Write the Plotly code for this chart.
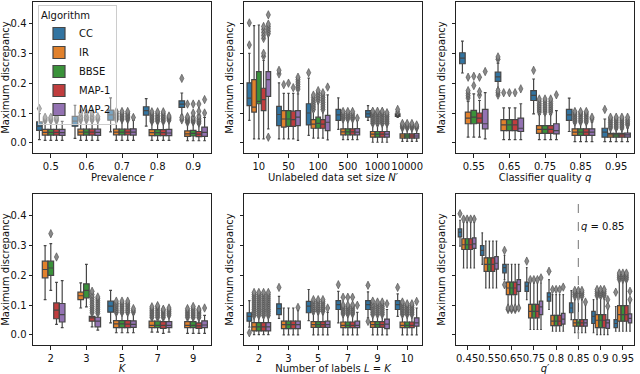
import plotly.graph_objects as go

ALGOS = ["CC", "IR", "BBSE", "MAP-1", "MAP-2"]
COLORS = ["#3274a1", "#e1812c", "#3a923a", "#c03d3e", "#9372b2"]

# ---------- Panel 1: prevalence r ----------
PREV_CATS = ["0.5", "0.6", "0.7", "0.8", "0.9"]
PREV_STATS = {  # [lower whisker, q1, median, q3, upper whisker]
    "CC":    [[0.011, 0.042, 0.056, 0.070, 0.098], [0.015, 0.056, 0.073, 0.089, 0.126], [0.037, 0.076, 0.094, 0.110, 0.151], [0.056, 0.093, 0.108, 0.121, 0.148], [0.093, 0.119, 0.130, 0.141, 0.167]],
    "IR":    [[0.008, 0.026, 0.035, 0.045, 0.070], [0.008, 0.026, 0.036, 0.046, 0.072], [0.008, 0.027, 0.036, 0.046, 0.074], [0.008, 0.024, 0.034, 0.044, 0.068], [0.007, 0.022, 0.030, 0.040, 0.065]],
    "BBSE":  [[0.008, 0.026, 0.035, 0.045, 0.070], [0.008, 0.026, 0.036, 0.046, 0.072], [0.008, 0.027, 0.036, 0.046, 0.074], [0.008, 0.024, 0.034, 0.044, 0.068], [0.007, 0.023, 0.032, 0.042, 0.066]],
    "MAP-1": [[0.008, 0.026, 0.035, 0.045, 0.070], [0.008, 0.026, 0.036, 0.046, 0.072], [0.008, 0.027, 0.036, 0.046, 0.074], [0.008, 0.024, 0.034, 0.044, 0.068], [0.007, 0.021, 0.029, 0.038, 0.062]],
    "MAP-2": [[0.008, 0.025, 0.034, 0.045, 0.072], [0.008, 0.025, 0.035, 0.046, 0.074], [0.008, 0.026, 0.036, 0.047, 0.076], [0.008, 0.024, 0.033, 0.045, 0.072], [0.007, 0.022, 0.035, 0.053, 0.085]],
}
PREV_OUT = {
    "CC":    [[0.115], [], [], [], [0.077, 0.085, 0.216]],
    "IR":    [[0.074, 0.078, 0.082, 0.086], [0.076, 0.080, 0.085, 0.090, 0.100], [0.078, 0.083, 0.088, 0.093, 0.099, 0.105], [0.072, 0.077, 0.082, 0.087, 0.092, 0.098, 0.104], [0.068, 0.073, 0.078, 0.083, 0.088, 0.130]],
    "BBSE":  [[0.074, 0.078, 0.082, 0.086], [0.076, 0.080, 0.085, 0.090, 0.100], [0.078, 0.083, 0.088, 0.093, 0.099, 0.105], [0.072, 0.077, 0.082, 0.087, 0.092, 0.098, 0.104], [0.070, 0.075, 0.080, 0.086, 0.100, 0.130]],
    "MAP-1": [[0.074, 0.078, 0.082, 0.086], [0.076, 0.080, 0.085, 0.090, 0.100], [0.078, 0.083, 0.088, 0.093, 0.099, 0.105], [0.072, 0.077, 0.082, 0.087, 0.092, 0.098, 0.104], [0.066, 0.071, 0.076, 0.082, 0.090, 0.106, 0.130]],
    "MAP-2": [[], [0.078, 0.083, 0.088], [0.085], [0.076, 0.081, 0.086, 0.090], [0.100, 0.145]],
}

# ---------- Panel 2: unlabeled data set size N' ----------
SIZE_CATS = ["10", "50", "100", "500", "1000", "10000"]
SIZE_STATS = {
    "CC":    [[0.075, 0.125, 0.150, 0.201, 0.300], [0.013, 0.058, 0.095, 0.122, 0.201], [0.025, 0.060, 0.100, 0.131, 0.217], [0.045, 0.075, 0.094, 0.112, 0.151], [0.075, 0.086, 0.097, 0.108, 0.125], [0.085, 0.089, 0.093, 0.097, 0.100]],
    "IR":    [[0.013, 0.103, 0.120, 0.212, 0.393], [0.013, 0.053, 0.080, 0.108, 0.166], [0.016, 0.049, 0.063, 0.078, 0.105], [0.011, 0.027, 0.037, 0.047, 0.075], [0.002, 0.019, 0.029, 0.038, 0.060], [0.005, 0.016, 0.023, 0.030, 0.045]],
    "BBSE":  [[0.013, 0.131, 0.139, 0.239, 0.395], [0.013, 0.055, 0.080, 0.108, 0.166], [0.016, 0.049, 0.065, 0.086, 0.135], [0.011, 0.027, 0.037, 0.047, 0.075], [0.002, 0.019, 0.029, 0.038, 0.060], [0.005, 0.016, 0.023, 0.030, 0.045]],
    "MAP-1": [[0.013, 0.108, 0.145, 0.183, 0.276], [0.013, 0.055, 0.078, 0.106, 0.166], [0.016, 0.049, 0.063, 0.078, 0.105], [0.011, 0.027, 0.037, 0.047, 0.075], [0.002, 0.019, 0.029, 0.038, 0.060], [0.005, 0.016, 0.023, 0.030, 0.045]],
    "MAP-2": [[0.047, 0.156, 0.212, 0.239, 0.360], [0.008, 0.058, 0.086, 0.108, 0.164], [0.010, 0.041, 0.069, 0.092, 0.161], [0.011, 0.027, 0.036, 0.048, 0.075], [0.002, 0.019, 0.029, 0.038, 0.060], [0.005, 0.016, 0.023, 0.031, 0.045]],
}
SIZE_OUT = {
    "CC":    [[0.328, 0.402], [0.231, 0.243], [0.235], [], [], [0.103, 0.112]],
    "IR":    [[], [0.195], [0.112, 0.120, 0.128, 0.136, 0.144, 0.152, 0.160], [0.080, 0.086, 0.092, 0.098, 0.105], [0.065, 0.071, 0.077, 0.083, 0.089, 0.095, 0.101, 0.106], [0.050, 0.055, 0.060, 0.065]],
    "BBSE":  [[], [0.200], [0.142, 0.150, 0.158, 0.166, 0.175], [0.080, 0.086, 0.092, 0.098, 0.105], [0.065, 0.071, 0.077, 0.083, 0.089, 0.095, 0.101, 0.106], [0.050, 0.055, 0.060, 0.065]],
    "MAP-1": [[0.290, 0.300, 0.350, 0.360, 0.370, 0.380, 0.390], [0.185], [0.112, 0.120, 0.128, 0.136, 0.144, 0.152, 0.160, 0.168], [0.080, 0.086, 0.092, 0.098, 0.105], [0.065, 0.071, 0.077, 0.083, 0.089, 0.095, 0.101, 0.106], [0.050, 0.055, 0.060, 0.065]],
    "MAP-2": [[0.019, 0.366, 0.374, 0.382, 0.390, 0.398, 0.429], [0.180, 0.188, 0.196, 0.204, 0.212, 0.220], [0.187], [0.083], [0.065, 0.071, 0.077, 0.083, 0.089, 0.095, 0.101], [0.050, 0.055, 0.060]],
}

# ---------- Panel 3: classifier quality q ----------
QUAL_CATS = ["0.55", "0.65", "0.75", "0.85", "0.95"]
QUAL_STATS = {
    "CC":    [[0.234, 0.265, 0.284, 0.302, 0.341], [0.181, 0.206, 0.221, 0.237, 0.267], [0.097, 0.142, 0.159, 0.175, 0.214], [0.038, 0.075, 0.094, 0.112, 0.150], [0.004, 0.019, 0.036, 0.049, 0.080]],
    "IR":    [[0.019, 0.064, 0.083, 0.103, 0.139], [0.011, 0.041, 0.060, 0.078, 0.117], [0.011, 0.032, 0.045, 0.058, 0.095], [0.004, 0.025, 0.036, 0.047, 0.065], [0.004, 0.019, 0.027, 0.032, 0.045]],
    "BBSE":  [[0.019, 0.064, 0.086, 0.109, 0.164], [0.011, 0.041, 0.060, 0.078, 0.117], [0.011, 0.032, 0.045, 0.058, 0.095], [0.004, 0.025, 0.036, 0.047, 0.065], [0.004, 0.019, 0.027, 0.032, 0.045]],
    "MAP-1": [[0.019, 0.066, 0.083, 0.100, 0.142], [0.011, 0.041, 0.060, 0.078, 0.117], [0.011, 0.032, 0.045, 0.058, 0.095], [0.004, 0.025, 0.036, 0.047, 0.065], [0.004, 0.019, 0.027, 0.032, 0.045]],
    "MAP-2": [[0.013, 0.047, 0.064, 0.112, 0.168], [0.011, 0.038, 0.049, 0.083, 0.131], [0.011, 0.030, 0.041, 0.064, 0.108], [0.004, 0.025, 0.036, 0.047, 0.070], [0.004, 0.019, 0.027, 0.033, 0.050]],
}
QUAL_OUT = {
    "CC":    [[], [0.160, 0.168, 0.175, 0.280, 0.288], [0.243], [], [0.112]],
    "IR":    [[0.150, 0.158, 0.166, 0.175, 0.220], [0.168], [0.103, 0.110, 0.117, 0.124, 0.131, 0.139, 0.147], [0.070, 0.076, 0.082, 0.088, 0.094, 0.100, 0.105], [0.050, 0.056, 0.062, 0.068, 0.074, 0.080, 0.086]],
    "BBSE":  [[0.192, 0.223], [0.168], [0.103, 0.110, 0.117, 0.124, 0.131, 0.139, 0.147], [0.070, 0.076, 0.082, 0.088, 0.094, 0.100, 0.105], [0.050, 0.056, 0.062, 0.068, 0.074, 0.080, 0.086]],
    "MAP-1": [[0.160, 0.172, 0.220], [0.168], [0.103, 0.110, 0.117, 0.124, 0.131, 0.139, 0.147], [0.070, 0.076, 0.082, 0.088, 0.094, 0.100, 0.105], [0.050, 0.056, 0.062, 0.068, 0.074, 0.080, 0.086]],
    "MAP-2": [[0.239], [0.181], [0.161], [0.080, 0.086], [0.060, 0.066, 0.072, 0.078, 0.086]],
}

# ---------- Panel 4: K ----------
K_CATS = ["2", "3", "5", "7", "9"]
K_STATS = {
    "CC":    [None, None, [0.040, 0.076, 0.096, 0.113, 0.149], None, None],
    "IR":    [[0.118, 0.191, 0.219, 0.247, 0.299], [0.090, 0.118, 0.131, 0.143, 0.174], [0.007, 0.024, 0.037, 0.048, 0.070], [0.009, 0.024, 0.032, 0.046, 0.055], [0.005, 0.024, 0.032, 0.044, 0.055]],
    "BBSE":  [[0.149, 0.199, 0.224, 0.247, 0.306], [0.094, 0.124, 0.149, 0.171, 0.236], [0.007, 0.024, 0.037, 0.048, 0.070], [0.009, 0.024, 0.032, 0.046, 0.055], [0.005, 0.024, 0.032, 0.044, 0.055]],
    "MAP-1": [[0.035, 0.054, 0.083, 0.107, 0.176], [0.027, 0.046, 0.057, 0.062, 0.070], [0.007, 0.024, 0.036, 0.048, 0.070], [0.005, 0.022, 0.032, 0.044, 0.055], [0.005, 0.022, 0.030, 0.040, 0.055]],
    "MAP-2": [[0.024, 0.043, 0.068, 0.105, 0.182], [0.016, 0.027, 0.046, 0.059, 0.068], [0.007, 0.025, 0.035, 0.047, 0.070], [0.009, 0.024, 0.032, 0.044, 0.060], [0.005, 0.024, 0.033, 0.047, 0.065]],
}
K_OUT = {
    "CC":    [[], [], [], [], []],
    "IR":    [[], [], [0.075, 0.081, 0.087, 0.094, 0.100, 0.106, 0.113], [0.058, 0.064, 0.070, 0.076, 0.082, 0.088, 0.094], [0.058, 0.064, 0.070, 0.076, 0.082, 0.088]],
    "BBSE":  [[0.339], [], [0.075, 0.081, 0.087, 0.094, 0.100, 0.106, 0.113], [0.058, 0.064, 0.070, 0.076, 0.082, 0.088, 0.094, 0.098], [0.058, 0.064, 0.070, 0.076, 0.082, 0.088, 0.095]],
    "MAP-1": [[0.261], [0.074, 0.081, 0.088, 0.095, 0.102, 0.110, 0.118, 0.126, 0.135, 0.146], [0.075, 0.081, 0.087, 0.094, 0.100, 0.106, 0.113], [0.058, 0.064, 0.070, 0.076, 0.082, 0.086], [0.058, 0.064, 0.070, 0.076, 0.082, 0.086]],
    "MAP-2": [[], [0.072, 0.079, 0.086, 0.093, 0.100, 0.107, 0.114, 0.121, 0.127], [0.076, 0.082, 0.088], [0.066, 0.072, 0.078, 0.084, 0.090], [0.090]],
}

# ---------- Panel 5: number of labels L = K ----------
L_CATS = ["2", "3", "5", "7", "9", "10"]
L_STATS = {
    "CC":    [[0.026, 0.046, 0.062, 0.074, 0.115], [0.055, 0.068, 0.088, 0.104, 0.129], [0.048, 0.074, 0.096, 0.112, 0.152], [0.040, 0.085, 0.101, 0.115, 0.146], [0.057, 0.085, 0.101, 0.115, 0.144], [0.062, 0.085, 0.101, 0.115, 0.137]],
    "IR":    [[0.001, 0.013, 0.027, 0.041, 0.060], [0.000, 0.021, 0.034, 0.046, 0.090], [0.000, 0.025, 0.034, 0.044, 0.070], [0.000, 0.024, 0.032, 0.043, 0.065], [0.000, 0.025, 0.034, 0.044, 0.065], [0.000, 0.024, 0.032, 0.043, 0.065]],
    "BBSE":  [[0.001, 0.013, 0.027, 0.041, 0.060], [0.000, 0.021, 0.034, 0.046, 0.090], [0.000, 0.025, 0.034, 0.044, 0.070], [0.000, 0.024, 0.032, 0.043, 0.065], [0.000, 0.025, 0.034, 0.044, 0.065], [0.000, 0.024, 0.032, 0.043, 0.065]],
    "MAP-1": [[0.001, 0.013, 0.027, 0.041, 0.060], [0.000, 0.021, 0.034, 0.046, 0.090], [0.000, 0.025, 0.034, 0.044, 0.070], [0.000, 0.024, 0.032, 0.043, 0.065], [0.000, 0.025, 0.034, 0.044, 0.065], [0.000, 0.024, 0.032, 0.043, 0.065]],
    "MAP-2": [[0.001, 0.013, 0.027, 0.041, 0.060], [0.000, 0.021, 0.034, 0.046, 0.083], [0.000, 0.025, 0.034, 0.046, 0.075], [0.000, 0.024, 0.032, 0.046, 0.075], [0.000, 0.021, 0.036, 0.053, 0.085], [0.000, 0.029, 0.040, 0.057, 0.090]],
}
L_OUT = {
    "CC":    [[0.007], [0.159], [], [0.168], [0.045, 0.166], [0.159]],
    "IR":    [[0.065, 0.072, 0.079, 0.086, 0.093, 0.100, 0.107, 0.114, 0.121, 0.128, 0.135, 0.142], [], [0.079, 0.085, 0.091, 0.097, 0.104, 0.111, 0.118], [0.070, 0.076, 0.082, 0.088, 0.094, 0.100, 0.126], [0.068, 0.075, 0.082, 0.089, 0.096, 0.103, 0.113], [0.068, 0.074, 0.080, 0.086, 0.092, 0.098, 0.104, 0.110]],
    "BBSE":  [[0.065, 0.072, 0.079, 0.086, 0.093, 0.100, 0.107, 0.114, 0.121, 0.128, 0.135, 0.142], [], [0.079, 0.085, 0.091, 0.097, 0.104, 0.111, 0.118], [0.070, 0.076, 0.082, 0.088, 0.094, 0.100, 0.126], [0.068, 0.075, 0.082, 0.089, 0.096, 0.103, 0.110], [0.068, 0.074, 0.080, 0.086, 0.092, 0.098, 0.104]],
    "MAP-1": [[0.065, 0.072, 0.079, 0.086, 0.093, 0.100, 0.107, 0.114, 0.121, 0.128, 0.135, 0.142], [], [0.079, 0.085, 0.091, 0.097, 0.104, 0.111, 0.118], [0.070, 0.076, 0.082, 0.088, 0.094, 0.100, 0.126], [0.068, 0.075, 0.082, 0.089, 0.096, 0.103, 0.110], [0.068, 0.074, 0.080, 0.086, 0.092, 0.098, 0.104]],
    "MAP-2": [[0.065, 0.072, 0.079, 0.086, 0.093, 0.100, 0.107, 0.114, 0.121, 0.128, 0.135, 0.142], [0.092], [0.090], [0.099], [0.104], [0.112]],
}

# ---------- Panel 6: q' ----------
QP_CATS = ["0.45", "0.55", "0.65", "0.75", "0.8", "0.85", "0.9", "0.95"]
QP_STATS = {
    "CC":    [[0.297, 0.328, 0.344, 0.355, 0.384], [0.236, 0.266, 0.283, 0.299, 0.342], [0.185, 0.208, 0.225, 0.236, 0.266], [0.118, 0.146, 0.163, 0.177, 0.225], [0.085, 0.113, 0.127, 0.141, 0.185], [0.051, 0.074, 0.090, 0.107, 0.148], [0.007, 0.038, 0.062, 0.079, 0.118], [0.012, 0.024, 0.038, 0.051, 0.095]],
    "IR":    [[0.224, 0.286, 0.302, 0.322, 0.377], [0.157, 0.213, 0.236, 0.258, 0.314], [0.096, 0.135, 0.157, 0.177, 0.236], [0.018, 0.057, 0.079, 0.102, 0.174], [0.012, 0.031, 0.046, 0.065, 0.135], [0.007, 0.029, 0.040, 0.051, 0.118], [0.001, 0.024, 0.049, 0.068, 0.124], [0.012, 0.046, 0.068, 0.098, 0.180]],
    "BBSE":  [[0.224, 0.286, 0.302, 0.322, 0.377], [0.157, 0.213, 0.236, 0.258, 0.314], [0.096, 0.135, 0.157, 0.177, 0.236], [0.018, 0.057, 0.079, 0.102, 0.174], [0.012, 0.031, 0.046, 0.065, 0.135], [0.007, 0.029, 0.040, 0.051, 0.118], [0.001, 0.024, 0.049, 0.068, 0.124], [0.012, 0.046, 0.068, 0.098, 0.180]],
    "MAP-1": [[0.224, 0.286, 0.302, 0.322, 0.377], [0.157, 0.213, 0.236, 0.258, 0.314], [0.096, 0.135, 0.157, 0.177, 0.236], [0.018, 0.057, 0.079, 0.102, 0.174], [0.012, 0.031, 0.046, 0.065, 0.135], [0.007, 0.029, 0.040, 0.051, 0.118], [0.001, 0.024, 0.049, 0.068, 0.124], [0.012, 0.046, 0.068, 0.098, 0.180]],
    "MAP-2": [[0.224, 0.290, 0.305, 0.325, 0.377], [0.157, 0.220, 0.240, 0.262, 0.314], [0.096, 0.146, 0.168, 0.185, 0.236], [0.018, 0.068, 0.094, 0.113, 0.174], [0.012, 0.036, 0.053, 0.072, 0.135], [0.007, 0.029, 0.040, 0.051, 0.100], [0.001, 0.022, 0.040, 0.050, 0.090], [0.012, 0.040, 0.055, 0.070, 0.110]],
}
QP_OUT = {
    "CC":    [[0.406], [], [0.168, 0.283], [0.247], [0.213], [], [], [0.143]],
    "IR":    [[0.388], [], [0.085, 0.090], [0.185], [0.152], [0.129, 0.136, 0.143, 0.149], [0.131, 0.138, 0.145, 0.152], [0.186, 0.193, 0.200, 0.207]],
    "BBSE":  [[0.388], [], [0.085, 0.090], [0.185], [0.152], [0.129, 0.136, 0.143, 0.149], [0.131, 0.138, 0.145, 0.152], [0.186, 0.193, 0.200, 0.207]],
    "MAP-1": [[0.388], [], [0.085, 0.090], [0.185], [0.152], [0.129, 0.136, 0.143, 0.149], [0.131, 0.138, 0.145, 0.152], [0.186, 0.193, 0.200, 0.207]],
    "MAP-2": [[0.388], [], [0.090], [0.191], [0.160], [0.110], [0.096, 0.118], [0.118, 0.146]],
}
QP_REF = "0.85"

Y_TICKS = [0.0, 0.1, 0.2, 0.3, 0.4]
Y_TICK_LABELS = ["0.0", "0.1", "0.2", "0.3", "0.4"]

PANELS = [
    (PREV_CATS, PREV_STATS, PREV_OUT, "Prevalence <i>r</i>"),
    (SIZE_CATS, SIZE_STATS, SIZE_OUT, "Unlabeled data set size <i>N′</i>"),
    (QUAL_CATS, QUAL_STATS, QUAL_OUT, "Classifier quality <i>q</i>"),
    (K_CATS, K_STATS, K_OUT, "<i>K</i>"),
    (L_CATS, L_STATS, L_OUT, "Number of labels <i>L</i> = <i>K</i>"),
    (QP_CATS, QP_STATS, QP_OUT, "<i>q′</i>"),
]

W, H = 640, 374
FONT = "DejaVu Sans"
EDGE = "#464646"
GROUP_W = 0.8
SLOT = GROUP_W / len(ALGOS)

X_PIX = [(33, 211), (244, 422), (456, 634)]
Y_PIX = [(2, 153), (194, 345)]

fig = go.Figure()
layout = {}
for p, (cats, stats, outs, xtitle) in enumerate(PANELS):
    row, col = divmod(p, 3)
    ax = "" if p == 0 else str(p + 1)
    xr, yr = "x" + ax, "y" + ax
    for j, algo in enumerate(ALGOS):
        off = (j - (len(ALGOS) - 1) / 2) * SLOT
        xs, lo, q1, md, q3, hi = [], [], [], [], [], []
        ox, oy = [], []
        for i, s in enumerate(stats[algo]):
            if s is None:
                continue
            xs.append(i + off)
            lo.append(s[0]); q1.append(s[1]); md.append(s[2]); q3.append(s[3]); hi.append(s[4])
            for v in outs[algo][i]:
                ox.append(i + off)
                oy.append(v)
        fig.add_trace(go.Box(
            x=xs, q1=q1, median=md, q3=q3, lowerfence=lo, upperfence=hi,
            width=SLOT * 0.98, fillcolor=COLORS[j], line=dict(color=EDGE, width=1.2),
            whiskerwidth=0.5, boxpoints=False, name=algo, legendgroup=algo,
            showlegend=(p == 0), xaxis=xr, yaxis=yr, hoverinfo="skip"))
        fig.add_trace(go.Scatter(
            x=ox, y=oy, mode="markers", showlegend=False, legendgroup=algo,
            marker=dict(symbol="diamond-tall", size=6, color="#8a8a8a",
                        line=dict(color=EDGE, width=0.6)),
            xaxis=xr, yaxis=yr, hoverinfo="skip"))
    x0, x1 = X_PIX[col]
    y0, y1 = Y_PIX[row]
    layout["xaxis" + ax] = dict(
        domain=[x0 / W, x1 / W], anchor=yr, range=[-0.5, len(cats) - 0.5],
        tickvals=list(range(len(cats))), ticktext=cats, tickangle=0,
        showgrid=False, zeroline=False, showline=True, mirror=True,
        linecolor="#222", linewidth=1, ticks="outside", ticklen=3.5, tickcolor="#222",
        tickfont=dict(family=FONT, size=10, color="#111"),
        title=dict(text=xtitle, font=dict(family=FONT, size=10, color="#111"), standoff=3))
    layout["yaxis" + ax] = dict(
        domain=[1 - y1 / H, 1 - y0 / H], anchor=xr, range=[-0.034, 0.472],
        tickvals=Y_TICKS, ticktext=Y_TICK_LABELS if col == 0 else [""] * len(Y_TICKS),
        showgrid=False, zeroline=False, showline=True, mirror=True,
        linecolor="#222", linewidth=1, ticks="outside", ticklen=3.5, tickcolor="#222",
        tickfont=dict(family=FONT, size=10, color="#111"),
        title=dict(text="Maximum discrepancy", font=dict(family=FONT, size=10, color="#111"),
                   standoff=2))

# reference line q = 0.85 on the q' panel
ref_i = QP_CATS.index(QP_REF)
fig.add_shape(type="line", xref="x6", yref="y6 domain", x0=ref_i, x1=ref_i, y0=0.04, y1=0.95,
              line=dict(color="#8c8c8c", width=1.2, dash="dash"))
fig.add_annotation(xref="x6", yref="y6", x=ref_i, y=0.362, text="<i>q</i> = 0.85",
                   showarrow=False, xanchor="left", xshift=1,
                   font=dict(family=FONT, size=10, color="#111"))

fig.update_layout(
    **layout,
    width=W, height=H, margin=dict(l=0, r=0, t=0, b=0),
    paper_bgcolor="white", plot_bgcolor="white",
    font=dict(family=FONT, size=10, color="#111"),
    showlegend=True,
    legend=dict(x=38 / W, y=1 - 5 / H, xanchor="left", yanchor="top",
                title=dict(text="Algorithm", side="top", font=dict(family=FONT, size=10)),
                font=dict(family=FONT, size=10), bgcolor="rgba(255,255,255,0.35)",
                bordercolor="#cccccc", borderwidth=1, itemwidth=30, tracegroupgap=0),
)
fig.write_html("out.html", config={"displayModeBar": False},
               post_script="document.body.style.margin='0';")
